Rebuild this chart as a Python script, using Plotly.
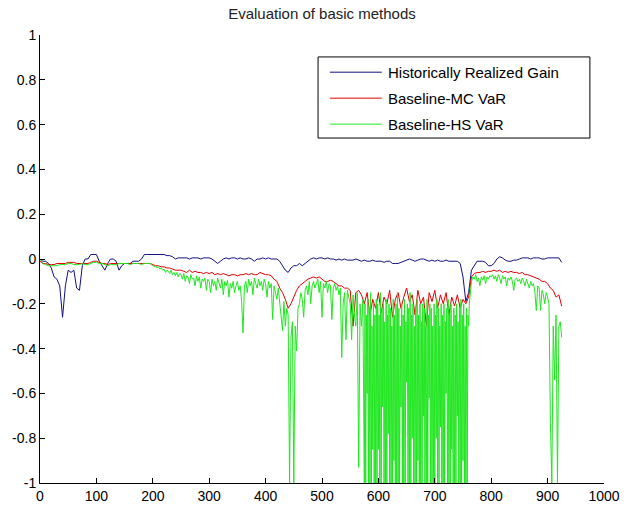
import plotly.graph_objects as go

# sample index for the realized gain and MC series
x_index = list(range(0, 926, 5))
# sample index for the HS series (finer where it is noisier)
hs_x = (list(range(0, 200, 5))
        + [200 + 2.5 * i for i in range(150)]
        + [575 + 1.25 * i for i in range(152)]
        + [765 + 2.5 * i for i in range(65)])

# Historically Realized Gain
realized_gain = [
    0.00, -0.01, -0.01, -0.02, -0.04, -0.08, -0.09, -0.12, -0.26, -0.12,
    -0.05, -0.06, -0.05, -0.13, -0.14, -0.03, 0.00, 0.00, 0.02, 0.02,
    0.02, -0.01, -0.03, -0.05, -0.02, 0.00, 0.00, -0.01, -0.05, -0.03,
    -0.02, -0.02, -0.02, -0.01, -0.01, -0.01, 0.00, 0.02, 0.02, 0.02,
    0.02, 0.02, 0.02, 0.02, 0.02, 0.015, 0.015, 0.01, 0.00, 0.005,
    0.005, 0.005, 0.005, 0.00, 0.005, 0.005, 0.005, 0.00, 0.005, 0.005,
    0.005, 0.00, -0.01, -0.02, -0.01, 0.00, 0.005, 0.00, 0.005, 0.005,
    0.00, 0.005, 0.00, 0.00, 0.005, 0.00, -0.01, 0.00, 0.00, 0.005,
    0.00, 0.005, 0.00, 0.00, 0.00, -0.01, -0.03, -0.05, -0.06, -0.04,
    -0.03, -0.03, -0.02, -0.03, -0.02, -0.01, 0.00, 0.005, 0.00, 0.005,
    0.005, 0.00, 0.005, 0.00, 0.00, -0.005, 0.00, -0.005, 0.00, -0.005,
    -0.005, -0.005, 0.00, -0.005, -0.01, -0.005, -0.01, -0.01, -0.005, -0.01,
    -0.01, -0.01, -0.015, -0.01, -0.01, -0.02, -0.02, -0.02, -0.015, -0.01,
    -0.005, 0.00, -0.005, -0.01, -0.005, 0.00, 0.00, -0.005, -0.01, -0.005,
    -0.01, -0.005, -0.01, -0.01, -0.005, -0.01, -0.01, -0.01, -0.01, -0.02,
    -0.08, -0.19, -0.15, -0.05, -0.03, -0.01, -0.01, -0.01, -0.015, -0.03,
    -0.03, -0.02, 0.00, 0.01, 0.005, -0.005, -0.01, -0.01, -0.005, -0.005,
    0.00, 0.005, 0.005, 0.005, 0.00, 0.005, 0.005, 0.005, 0.00, 0.00,
    0.005, 0.005, 0.005, 0.005, 0.005, -0.015,
]

# Baseline-MC VaR
mc_var = [
    -0.01, -0.02, -0.02, -0.025, -0.025, -0.025, -0.02, -0.02, -0.02, -0.02,
    -0.015, -0.015, -0.015, -0.02, -0.02, -0.02, -0.02, -0.02, -0.015, -0.01,
    -0.01, -0.015, -0.02, -0.02, -0.025, -0.02, -0.02, -0.02, -0.02, -0.02,
    -0.02, -0.02, -0.02, -0.02, -0.02, -0.02, -0.02, -0.02, -0.02, -0.02,
    -0.025, -0.03, -0.03, -0.035, -0.035, -0.04, -0.04, -0.045, -0.05, -0.05,
    -0.05, -0.055, -0.06, -0.05, -0.06, -0.055, -0.06, -0.06, -0.065, -0.06,
    -0.065, -0.06, -0.07, -0.065, -0.07, -0.065, -0.07, -0.075, -0.07, -0.07,
    -0.075, -0.07, -0.07, -0.065, -0.07, -0.065, -0.07, -0.07, -0.06, -0.065,
    -0.07, -0.07, -0.075, -0.09, -0.10, -0.13, -0.15, -0.18, -0.22, -0.20,
    -0.17, -0.14, -0.12, -0.11, -0.10, -0.09, -0.085, -0.08, -0.085, -0.08,
    -0.09, -0.10, -0.10, -0.095, -0.10, -0.11, -0.12, -0.12, -0.13, -0.13,
    -0.14, -0.30, -0.15, -0.14, -0.16, -0.20, -0.15, -0.25, -0.18, -0.22,
    -0.15, -0.24, -0.17, -0.20, -0.14, -0.26, -0.18, -0.15, -0.22, -0.17,
    -0.13, -0.19, -0.16, -0.25, -0.14, -0.20, -0.17, -0.30, -0.15, -0.19,
    -0.14, -0.22, -0.16, -0.20, -0.15, -0.25, -0.17, -0.21, -0.16, -0.22,
    -0.18, -0.20, -0.17, -0.08, -0.065, -0.06, -0.06, -0.055, -0.06, -0.055,
    -0.055, -0.05, -0.055, -0.05, -0.06, -0.055, -0.06, -0.055, -0.06, -0.06,
    -0.065, -0.06, -0.07, -0.07, -0.075, -0.08, -0.085, -0.09, -0.10, -0.10,
    -0.11, -0.13, -0.14, -0.17, -0.16, -0.21,
]

# Baseline-HS VaR (values at hs_x)
hs_var = [
    # 0 .. 195 (step 5)
    0.00, -0.02, -0.025, -0.03, -0.03, -0.03, -0.03, -0.025, -0.025, -0.025,
    -0.02, -0.02, -0.025, -0.025, -0.025, -0.02, -0.025, -0.025, -0.02, -0.015,
    -0.015, -0.02, -0.02, -0.025, -0.03, -0.025, -0.025, -0.025, -0.02, -0.02,
    -0.02, -0.02, -0.025, -0.02, -0.02, -0.02, -0.025, -0.02, -0.02, -0.02,
    # 200 .. 247.5 (step 2.5)
    -0.03, -0.035, -0.03, -0.04, -0.035, -0.045, -0.04, -0.05, -0.045, -0.06,
    -0.05, -0.055, -0.065, -0.05, -0.07, -0.06, -0.075, -0.06, -0.08, -0.065,
    # 250 .. 297.5
    -0.07, -0.09, -0.065, -0.10, -0.075, -0.08, -0.11, -0.07, -0.09, -0.085,
    -0.12, -0.075, -0.10, -0.08, -0.13, -0.09, -0.10, -0.085, -0.14, -0.09,
    # 300 .. 347.5
    -0.10, -0.15, -0.09, -0.12, -0.10, -0.14, -0.085, -0.11, -0.13, -0.09,
    -0.16, -0.10, -0.12, -0.095, -0.17, -0.11, -0.13, -0.10, -0.15, -0.12,
    # 350 .. 397.5
    -0.10, -0.14, -0.12, -0.19, -0.33, -0.12, -0.10, -0.15, -0.09, -0.12,
    -0.10, -0.16, -0.085, -0.11, -0.13, -0.09, -0.12, -0.10, -0.14, -0.09,
    # 400 .. 447.5
    -0.11, -0.17, -0.10, -0.13, -0.11, -0.27, -0.12, -0.15, -0.18, -0.13,
    -0.20, -0.24, -0.32, -0.19, -0.30, -0.22, -0.25, -1.00, -0.35, -0.28,
    # 450 .. 497.5
    -1.00, -0.30, -0.41, -0.22, -0.20, -0.15, -0.18, -0.26, -0.14, -0.12,
    -0.16, -0.10, -0.20, -0.12, -0.10, -0.13, -0.11, -0.09, -0.15, -0.10,
    # 500 .. 547.5
    -0.26, -0.11, -0.13, -0.10, -0.15, -0.11, -0.12, -0.27, -0.13, -0.11,
    -0.14, -0.12, -0.16, -0.13, -0.44, -0.20, -0.15, -0.36, -0.14, -0.18,
    # 550 .. 572.5
    -0.20, -0.36, -0.16, -0.25, -0.30, -0.15, -0.93, -0.20, -0.30, -0.18,
    # 575 .. 593.75 (step 1.25)
    -1.00, -0.20, -1.00, -0.25, -0.60, -0.18, -1.00, -0.22, -1.00, -0.15, -1.00, -0.30, -0.85, -0.20, -1.00, -0.25,
    # 595 .. 613.75
    -1.00, -0.18, -1.00, -0.20, -0.85, -0.25, -1.00, -0.15, -1.00, -0.22, -0.66, -0.20, -1.00, -0.28, -1.00, -0.18,
    # 615 .. 633.75
    -1.00, -0.25, -0.78, -0.20, -1.00, -0.22, -1.00, -0.30, -1.00, -0.18, -0.90, -0.25, -1.00, -0.20, -1.00, -0.15,
    # 635 .. 653.75
    -1.00, -0.22, -1.00, -0.30, -0.66, -0.20, -1.00, -0.25, -1.00, -0.18, -1.00, -0.28, -0.55, -0.20, -1.00, -0.22,
    # 655 .. 673.75
    -1.00, -0.15, -1.00, -0.25, -0.80, -0.20, -1.00, -0.30, -1.00, -0.22, -1.00, -0.18, -0.90, -0.25, -1.00, -0.20,
    # 675 .. 693.75
    -1.00, -0.28, -1.00, -0.20, -0.70, -0.22, -1.00, -0.30, -1.00, -0.18, -1.00, -0.25, -0.62, -0.20, -1.00, -0.22,
    # 695 .. 713.75
    -1.00, -0.30, -1.00, -0.20, -1.00, -0.25, -0.80, -0.18, -1.00, -0.22, -1.00, -0.30, -0.75, -0.20, -1.00, -0.25,
    # 715 .. 733.75
    -1.00, -0.20, -1.00, -0.28, -0.60, -0.22, -1.00, -0.18, -1.00, -0.25, -1.00, -0.20, -0.85, -0.30, -1.00, -0.22,
    # 735 .. 753.75
    -1.00, -0.25, -1.00, -0.20, -0.70, -0.28, -1.00, -0.22, -1.00, -0.18, -1.00, -0.25, -0.90, -0.20, -1.00, -0.30,
    # 755 .. 763.75
    -1.00, -0.22, -1.00, -0.25, -0.30, -0.20, -0.15, -0.12,
    # 765 .. 797.5 (step 2.5)
    -0.10, -0.08, -0.09, -0.07, -0.10, -0.085, -0.12, -0.08, -0.095, -0.075, -0.11, -0.08, -0.09, -0.075,
    # 800 .. 847.5
    -0.08, -0.07, -0.09, -0.075, -0.10, -0.07, -0.085, -0.11, -0.075, -0.09,
    -0.08, -0.12, -0.085, -0.095, -0.08, -0.10, -0.14, -0.09, -0.085, -0.10,
    # 850 .. 897.5
    -0.09, -0.11, -0.085, -0.10, -0.12, -0.09, -0.11, -0.13, -0.10, -0.12,
    -0.11, -0.15, -0.23, -0.12, -0.13, -0.23, -0.14, -0.16, -0.20, -0.15,
    # 900 .. 925
    -0.17, -0.20, -0.73, -1.00, -0.30, -0.54, -0.25, -1.00, -0.30, -0.28,
    -0.35,
]

series_names = ["Historically Realized Gain", "Baseline-MC VaR", "Baseline-HS VaR"]
series_colors = ["#10107f", "#e00000", "#22e622"]

x_ticks = [0, 100, 200, 300, 400, 500, 600, 700, 800, 900, 1000]
y_ticks = [-1, -0.8, -0.6, -0.4, -0.2, 0, 0.2, 0.4, 0.6, 0.8, 1]
y_tick_text = ["-1", "-0.8", "-0.6", "-0.4", "-0.2", "0", "0.2", "0.4", "0.6", "0.8", "1"]

FONT = "Liberation Sans, Arial, sans-serif"

fig = go.Figure()
fig.add_trace(go.Scatter(x=x_index, y=realized_gain, mode="lines",
                         name=series_names[0], showlegend=False,
                         line=dict(color=series_colors[0], width=1)))
fig.add_trace(go.Scatter(x=x_index, y=mc_var, mode="lines",
                         name=series_names[1], showlegend=False,
                         line=dict(color=series_colors[1], width=1)))
fig.add_trace(go.Scatter(x=hs_x, y=hs_var, mode="lines",
                         name=series_names[2], showlegend=False,
                         line=dict(color=series_colors[2], width=1)))

# legend box drawn in paper coordinates (MATLAB-style: long line samples)
shapes = [dict(type="rect", xref="paper", yref="paper",
               x0=0.493, x1=0.975, y0=0.770, y1=0.951,
               line=dict(color="black", width=1), fillcolor="white", layer="above")]
annotations = []
row_y = [0.917, 0.859, 0.801]
for name, color, yy in zip(series_names, series_colors, row_y):
    shapes.append(dict(type="line", xref="paper", yref="paper",
                       x0=0.514, x1=0.606, y0=yy, y1=yy,
                       line=dict(color=color, width=1), layer="above"))
    annotations.append(dict(xref="paper", yref="paper", x=0.613, y=yy,
                            xanchor="left", yanchor="middle", showarrow=False,
                            text=name, font=dict(family=FONT, size=15, color="black")))

fig.update_layout(
    width=627, height=507,
    margin=dict(l=40, r=23, t=35, b=24),
    paper_bgcolor="white", plot_bgcolor="white",
    font=dict(family=FONT, size=14, color="black"),
    title=dict(text="Evaluation of basic methods", x=(40 + 604) / 2 / 627,
               xanchor="center", y=1 - 14 / 507, yanchor="middle",
               font=dict(family=FONT, size=15, color="#222222")),
    shapes=shapes, annotations=annotations,
    showlegend=False,
)
fig.update_xaxes(range=[0, 1000], tickvals=x_ticks, ticks="inside", ticklen=5,
                 showline=True, linecolor="black", linewidth=1, mirror=False,
                 showgrid=False, zeroline=False, tickcolor="black", automargin=False,
                 tickfont=dict(family=FONT, size=14))
fig.update_yaxes(range=[-1, 1], tickvals=y_ticks, ticktext=y_tick_text,
                 ticks="inside", ticklen=5, automargin=False,
                 showline=True, linecolor="black", linewidth=1, mirror=False,
                 showgrid=False, zeroline=False, tickcolor="black",
                 tickfont=dict(family=FONT, size=14))

fig.write_html("out.html")
